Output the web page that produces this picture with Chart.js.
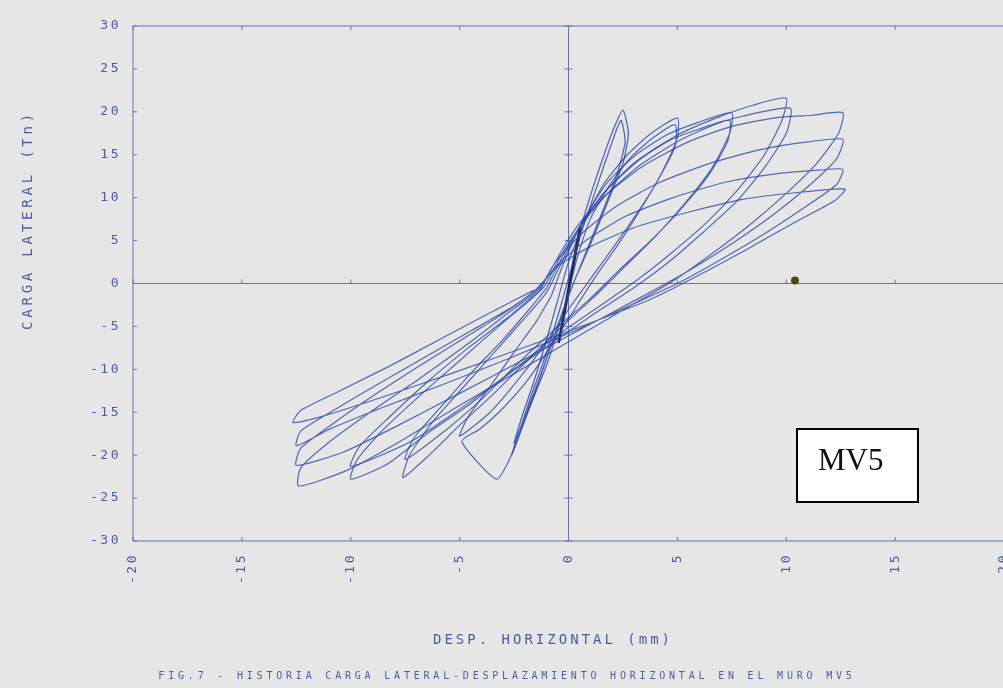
<!DOCTYPE html>
<html>
<head>
<meta charset="utf-8">
<script src="https://cdn.jsdelivr.net/npm/chart.js@4.4.1/dist/chart.umd.min.js"></script>
<style>
  html, body { margin: 0; padding: 0; background: #e6e6e6; overflow: hidden; }
  #wrap { width: 1003px; height: 688px; overflow: hidden; }
</style>
</head>
<body>
<div id="wrap"><canvas id="grafico" width="1008" height="688"></canvas></div>
<script>
// Ejes
var ticksX = [-20, -15, -10, -5, 0, 5, 10, 15, 20];
var ticksY = [-30, -25, -20, -15, -10, -5, 0, 5, 10, 15, 20, 25, 30];

// Ciclos elasticos iniciales (trazo negro)
var elastico = [[-0.45, -6.9], [0.55, 6.5], [-0.42, -6.6], [0.5, 6.2], [-0.45, -6.8], [0.55, 6.5]];

// Ciclos a +-2.5 mm
var ciclos25 = [
  [0.55, 6.5], [1.1, 11], [1.7, 15.5], [2.1, 18.2], [2.5, 20.2],
  [2.75, 17.5], [2.5, 14], [1.8, 9.5], [1.0, 4.5], [0.3, 0.5], [-0.3, -3.5], [-0.9, -8], [-1.5, -12.5], [-2.1, -16.5], [-2.6, -19.9],
  [-2.3, -17.5], [-1.7, -13], [-1.0, -8], [-0.4, -3], [0.1, 1.5], [0.6, 6], [1.2, 10.5], [1.8, 15], [2.4, 19.0],
  [2.6, 16.5], [2.2, 12.5], [1.5, 8], [0.7, 3], [0.0, -1.5], [-0.7, -6.5], [-1.4, -11.5], [-2.0, -15.5], [-2.5, -18.6],
  [-2.2, -16], [-1.6, -11.5], [-1.0, -6.5], [-0.5, -2]
];

// Ciclos a +-5 mm
var ciclos5 = [
  [-0.5, -2], [0, 2.5], [0.7, 7], [1.6, 11.5], [2.7, 15], [3.8, 17.5], [5.0, 19.3],
  [5.0, 17], [4.3, 13], [3.4, 9], [2.4, 5], [1.3, 1], [0.4, -2.5], [-0.6, -6.5], [-1.8, -11], [-3.0, -14.5], [-4.1, -17], [-4.9, -18.4],
  [-3.3, -22.8], [-2.6, -19.9],
  [-1.8, -14.5], [-1.0, -9.5], [-0.5, -5.5], [0, -1], [0.4, 3], [1.0, 7.5], [1.9, 11.5], [2.9, 14.8], [3.9, 17], [4.9, 18.5],
  [4.9, 16], [4.1, 12], [3.1, 8], [2.0, 4], [1.0, 0.5], [0, -3], [-1.2, -7.5], [-2.4, -11.5], [-3.6, -15], [-5.0, -17.8],
  [-4.6, -15.5], [-3.6, -12], [-2.5, -8], [-1.5, -4.5], [-0.8, -1.5]
];

// Ciclos a +-7.5 mm
var ciclos75 = [
  [-0.8, -1.5], [-0.2, 2.5], [0.6, 7], [1.7, 11.5], [3.0, 14.8], [4.5, 17.3], [6.0, 18.8], [7.5, 19.9],
  [7.4, 17.5], [6.6, 13.5], [5.4, 9.5], [4.0, 5.5], [2.6, 2], [1.2, -1.5], [-0.3, -5], [-1.9, -9], [-3.5, -13], [-5.0, -16.5], [-6.4, -20], [-7.6, -22.6],
  [-7.3, -20], [-6.2, -16], [-4.8, -12], [-3.4, -8], [-2.0, -4], [-1.0, -1],
  [-0.3, 2.5], [0.5, 6.5], [1.6, 10.5], [3.0, 14], [4.5, 16.5], [6.0, 18], [7.4, 19.0],
  [7.3, 16.5], [6.4, 12.5], [5.1, 8.5], [3.7, 4.8], [2.3, 1.5], [0.9, -2], [-0.7, -5.5], [-2.4, -9.5], [-4.0, -13.5], [-5.6, -17], [-7.5, -20.5],
  [-7.1, -18], [-5.9, -14.5], [-4.5, -10.5], [-3.0, -6.5], [-1.8, -3], [-1.0, -0.5]
];

// Ciclos a +-10 mm
var ciclos10 = [
  [-1, -0.5], [-0.3, 3], [0.6, 7], [1.8, 11], [3.3, 14.5], [5.0, 17.3], [6.8, 19.3], [8.5, 20.8], [10.0, 21.6],
  [9.8, 19], [9.0, 15], [7.8, 11], [6.3, 7], [4.7, 3.5], [3.2, 0.5], [1.5, -2.5], [-0.5, -6], [-2.5, -10], [-4.5, -14], [-6.5, -17.5], [-8.3, -21], [-10.0, -22.8],
  [-9.7, -20.5], [-8.5, -17], [-6.8, -13], [-5.0, -9], [-3.3, -5.2], [-1.8, -2], [-1.1, -0.3],
  [-0.4, 3], [0.5, 6.5], [1.8, 10.5], [3.4, 14], [5.2, 16.8], [7.0, 18.8], [8.7, 19.9], [10.2, 20.4],
  [10.0, 17.5], [9.0, 13.5], [7.7, 9.5], [6.2, 6], [4.6, 2.5], [3.0, -0.5], [1.2, -3.5], [-0.8, -7], [-3.0, -11], [-5.2, -15], [-7.3, -18.5], [-10.0, -21.3],
  [-9.6, -19], [-8.2, -15.5], [-6.5, -11.5], [-4.6, -7.5], [-2.8, -4], [-1.3, -0.8]
];

// Ciclos a +-12.5 mm
var ciclos125 = [
  [-1.3, -0.8], [-0.5, 3], [0.5, 7], [1.8, 10.5], [3.5, 13.8], [5.5, 16.5], [7.5, 18.3], [9.5, 19.3], [11.2, 19.6], [12.6, 19.9],
  [12.4, 17.5], [11.4, 14], [10.0, 10.5], [8.4, 7], [6.6, 3.5], [4.8, 0.3], [2.7, -2.8], [0.2, -6.5], [-2.5, -10.5], [-5.2, -14.5], [-7.8, -18.5], [-10.2, -21.8], [-12.4, -23.6],
  [-12.3, -21.5], [-11.0, -18.5], [-9.0, -14.8], [-6.8, -11], [-4.6, -7], [-2.7, -3.3], [-1.4, -0.8],
  [-0.6, 2.5], [0.6, 5.8], [2.2, 9], [4.2, 11.8], [6.5, 14], [8.8, 15.6], [11.0, 16.5], [12.6, 16.8],
  [12.3, 14.5], [11.0, 11.3], [9.4, 8], [7.6, 4.8], [5.6, 1.6], [3.4, -1.5], [0.8, -5], [-2.0, -8.8], [-5.0, -12.8], [-7.8, -16.5], [-10.3, -19.6], [-12.5, -21.2],
  [-12.3, -19.2], [-10.8, -16.3], [-8.8, -12.8], [-6.6, -9.2], [-4.3, -5.6], [-2.4, -2.5], [-1.4, -0.6],
  [-0.5, 2.2], [0.8, 5], [2.6, 7.8], [4.8, 10], [7.2, 11.8], [9.6, 12.8], [11.5, 13.2], [12.6, 13.3],
  [12.3, 11.5], [10.8, 8.8], [9.0, 5.8], [7.0, 2.8], [5.0, 0], [2.8, -2.6], [0.2, -5.6], [-2.8, -8.8], [-5.8, -11.8], [-8.6, -14.5], [-11.0, -17], [-12.5, -18.9],
  [-12.3, -17.2], [-10.8, -14.8], [-8.8, -11.8], [-6.6, -8.6], [-4.4, -5.4], [-2.5, -2.6], [-1.5, -0.7],
  [-0.5, 2], [1.0, 4.3], [3.0, 6.5], [5.5, 8.3], [8.0, 9.8], [10.5, 10.6], [12.7, 11.0],
  [12.2, 9.6], [10.3, 7], [8.2, 4], [6.0, 1], [3.8, -1.8], [1.0, -4.6], [-2.2, -7.6], [-5.4, -10.5], [-8.5, -13.2], [-11.2, -15.4], [-12.65, -16.2],
  [-12.3, -14.8], [-10.5, -12.5], [-8.2, -9.6], [-5.9, -6.5], [-3.6, -3.4], [-1.6, -0.8]
];

// Punto suelto en el papel
var punto = [[10.4, 0.35]];

var tituloX = 'DESP. HORIZONTAL (mm)';
var tituloY = 'CARGA LATERAL (Tn)';
var leyenda = 'FIG.7 - HISTORIA CARGA LATERAL-DESPLAZAMIENTO HORIZONTAL EN EL MURO MV5';
var etiqueta = 'MV5';

// Colores
var colorEje = '#6474aa';
var colorTexto = '#4d5ca0';
var colorPluma = 'rgba(40, 66, 168, 0.78)';
var fondo = '#e6e6e6';
var fuente = '"DejaVu Sans Mono", monospace';

function puntos(lista) {
  return lista.map(function (p) { return { x: p[0], y: p[1] }; });
}

function serie(lista, color, ancho) {
  return {
    data: puntos(lista),
    showLine: true,
    borderColor: color,
    borderWidth: ancho,
    pointRadius: 0,
    tension: 0.2
  };
}

// Marco, ejes en cero y marcas del plotter
var plotter = {
  id: 'plotter',
  beforeLayout: function (chart) {
    chart.ctx.letterSpacing = '2.5px';
  },
  beforeDraw: function (chart) {
    var ctx = chart.ctx;
    ctx.letterSpacing = '2.5px';
    ctx.save();
    ctx.fillStyle = fondo;
    ctx.fillRect(0, 0, chart.width, chart.height);
    ctx.restore();
  },
  beforeDatasetsDraw: function (chart) {
    var ctx = chart.ctx;
    var a = chart.chartArea;
    var sx = chart.scales.x, sy = chart.scales.y;
    var x0 = sx.getPixelForValue(0), y0 = sy.getPixelForValue(0);
    ctx.save();
    ctx.strokeStyle = colorEje;
    ctx.lineWidth = 1;
    ctx.beginPath();
    ctx.rect(a.left, a.top, a.right - a.left, a.bottom - a.top);
    ctx.moveTo(x0, a.top); ctx.lineTo(x0, a.bottom);
    ctx.moveTo(a.left, y0); ctx.lineTo(a.right, y0);
    ticksX.forEach(function (v) {
      var px = sx.getPixelForValue(v);
      ctx.moveTo(px, a.top); ctx.lineTo(px, a.top + 4);
      ctx.moveTo(px, a.bottom); ctx.lineTo(px, a.bottom - 4);
      ctx.moveTo(px, y0 - 4); ctx.lineTo(px, y0);
    });
    ticksY.forEach(function (v) {
      var py = sy.getPixelForValue(v);
      ctx.moveTo(a.left, py); ctx.lineTo(a.left + 4, py);
      ctx.moveTo(x0 - 4, py); ctx.lineTo(x0 + 4, py);
    });
    ctx.stroke();
    ctx.restore();
  },
  afterDraw: function (chart) {
    var ctx = chart.ctx;
    ctx.save();
    ctx.fillStyle = colorTexto;
    ctx.textAlign = 'center';
    ctx.textBaseline = 'middle';

    ctx.letterSpacing = '3px';
    ctx.font = '14px ' + fuente;
    ctx.fillText(tituloX, 553, 640);

    ctx.save();
    ctx.translate(28, 220);
    ctx.rotate(-Math.PI / 2);
    ctx.letterSpacing = '3.8px';
    ctx.fillText(tituloY, 0, 0);
    ctx.restore();

    ctx.letterSpacing = '3.8px';
    ctx.font = '10px ' + fuente;
    ctx.fillText(leyenda, 507, 676);

    // recuadro MV5
    ctx.letterSpacing = '0px';
    ctx.fillStyle = '#ffffff';
    ctx.fillRect(797, 429, 121, 73);
    ctx.strokeStyle = '#000000';
    ctx.lineWidth = 2;
    ctx.strokeRect(797, 429, 121, 73);
    ctx.fillStyle = '#111111';
    ctx.textAlign = 'left';
    ctx.textBaseline = 'alphabetic';
    ctx.font = '31px "Liberation Serif", serif';
    ctx.fillText(etiqueta, 818, 470);
    ctx.restore();
  }
};

var ctx = document.getElementById('grafico').getContext('2d');

var config = {
  type: 'scatter',
  data: {
    datasets: [
      serie(ciclos125, colorPluma, 1.2),
      serie(ciclos10, colorPluma, 1.2),
      serie(ciclos75, colorPluma, 1.2),
      serie(ciclos5, colorPluma, 1.2),
      serie(ciclos25, colorPluma, 1.3),
      serie(elastico, 'rgba(15, 15, 45, 0.9)', 2.4),
      {
        data: puntos(punto),
        pointRadius: 4,
        pointBackgroundColor: '#4d4a14',
        pointBorderWidth: 0
      }
    ]
  },
  options: {
    responsive: false,
    animation: false,
    layout: { padding: { top: 26, right: 0, left: 0, bottom: 0 } },
    plugins: {
      legend: { display: false },
      tooltip: { enabled: false }
    },
    scales: {
      x: {
        type: 'linear',
        min: -20,
        max: 20,
        afterBuildTicks: function (s) { s.ticks = ticksX.map(function (v) { return { value: v }; }); },
        afterFit: function (s) { s.height = 147; s.paddingLeft = 0; s.paddingRight = 0; },
        grid: { display: false, drawTicks: false },
        border: { display: false },
        ticks: {
          minRotation: 90,
          maxRotation: 90,
          padding: 12,
          color: colorTexto,
          font: { family: fuente, size: 13 }
        }
      },
      y: {
        type: 'linear',
        min: -30,
        max: 30,
        afterBuildTicks: function (s) { s.ticks = ticksY.map(function (v) { return { value: v }; }); },
        afterFit: function (s) { s.width = 133; },
        grid: { display: false, drawTicks: false },
        border: { display: false },
        ticks: {
          padding: 12,
          color: colorTexto,
          font: { family: fuente, size: 13 }
        }
      }
    }
  },
  plugins: [plotter]
};

var chart = new Chart(ctx, config);
</script>
</body>
</html>
